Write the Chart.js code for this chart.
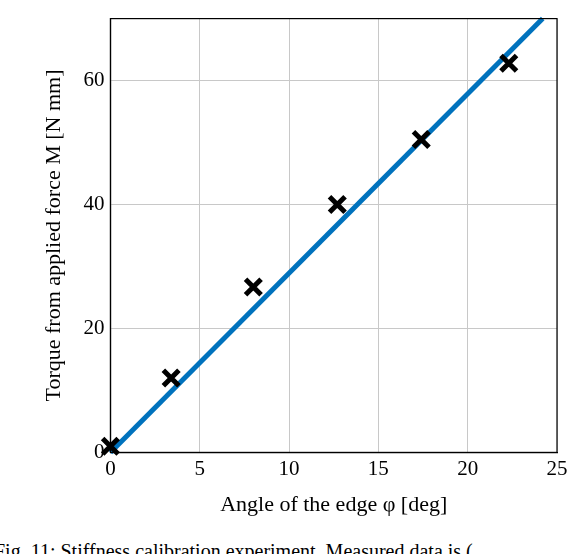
<!DOCTYPE html><html><head><script src="https://cdn.jsdelivr.net/npm/chart.js"></script>
<style>body{margin:0;overflow:hidden;width:582px;height:554px;position:relative;background:#fff}
#cap{position:absolute;left:-6px;top:540px;font:20px 'Liberation Serif';white-space:nowrap}</style></head><body>
<div style="position:absolute;left:0;top:0;width:582px;height:522px"><canvas id="c"></canvas></div>
<div id="cap">Fig. 11: Stiffness calibration experiment. Measured data is (…</div>
<script>
const angles=[0,3.4,8,12.7,17.4,22.3];
const torques=[1,12,26.7,40,50.5,62.8];
const fitX=[0,24.2];
const fitY=[0,70];
const xTicks=[0,5,10,15,20,25];
const yTicks=[0,20,40,60];
const F="'Liberation Serif'";
new Chart(document.getElementById('c'),{type:'scatter',
data:{datasets:[
{data:fitX.map((x,i)=>({x,y:fitY[i]})),showLine:true,borderColor:'#0072BD',borderWidth:5,pointRadius:0,order:2},
{data:angles.map((x,i)=>({x,y:torques[i]})),pointStyle:'crossRot',pointRadius:11,borderColor:'#000',borderWidth:5,order:1}]},
options:{responsive:true,maintainAspectRatio:false,animation:false,clip:false,
layout:{padding:{top:-17,right:25,left:37,bottom:0}},
plugins:{legend:{display:false},tooltip:{enabled:false}},
scales:{
x:{min:0,max:25,afterBuildTicks:a=>{a.ticks=xTicks.map(v=>({value:v}))},
 ticks:{color:'#000',font:{family:F,size:21},maxRotation:0,padding:4},
 grid:{color:'#c8c8c8',drawTicks:false},border:{color:'#000',width:1.2},
 title:{display:true,text:'Angle of the edge φ [deg]',color:'#000',font:{family:F,size:22},padding:{top:6}}},
y:{min:0,max:70,afterBuildTicks:a=>{a.ticks=yTicks.map(v=>({value:v}))},
 ticks:{color:'#000',font:{family:F,size:21},padding:6},
 grid:{color:'#c8c8c8',drawTicks:false},border:{color:'#000',width:1.2},
 title:{display:true,text:'Torque from applied force M [N mm]',color:'#000',font:{family:F,size:22},padding:{bottom:10}}}}},
plugins:[{id:'box',afterDraw(c){const a=c.chartArea,x=c.ctx;x.save();x.strokeStyle='#000';x.lineWidth=1.2;x.strokeRect(a.left,a.top,a.right-a.left,a.bottom-a.top);x.restore();}}]
});
</script></body></html>
